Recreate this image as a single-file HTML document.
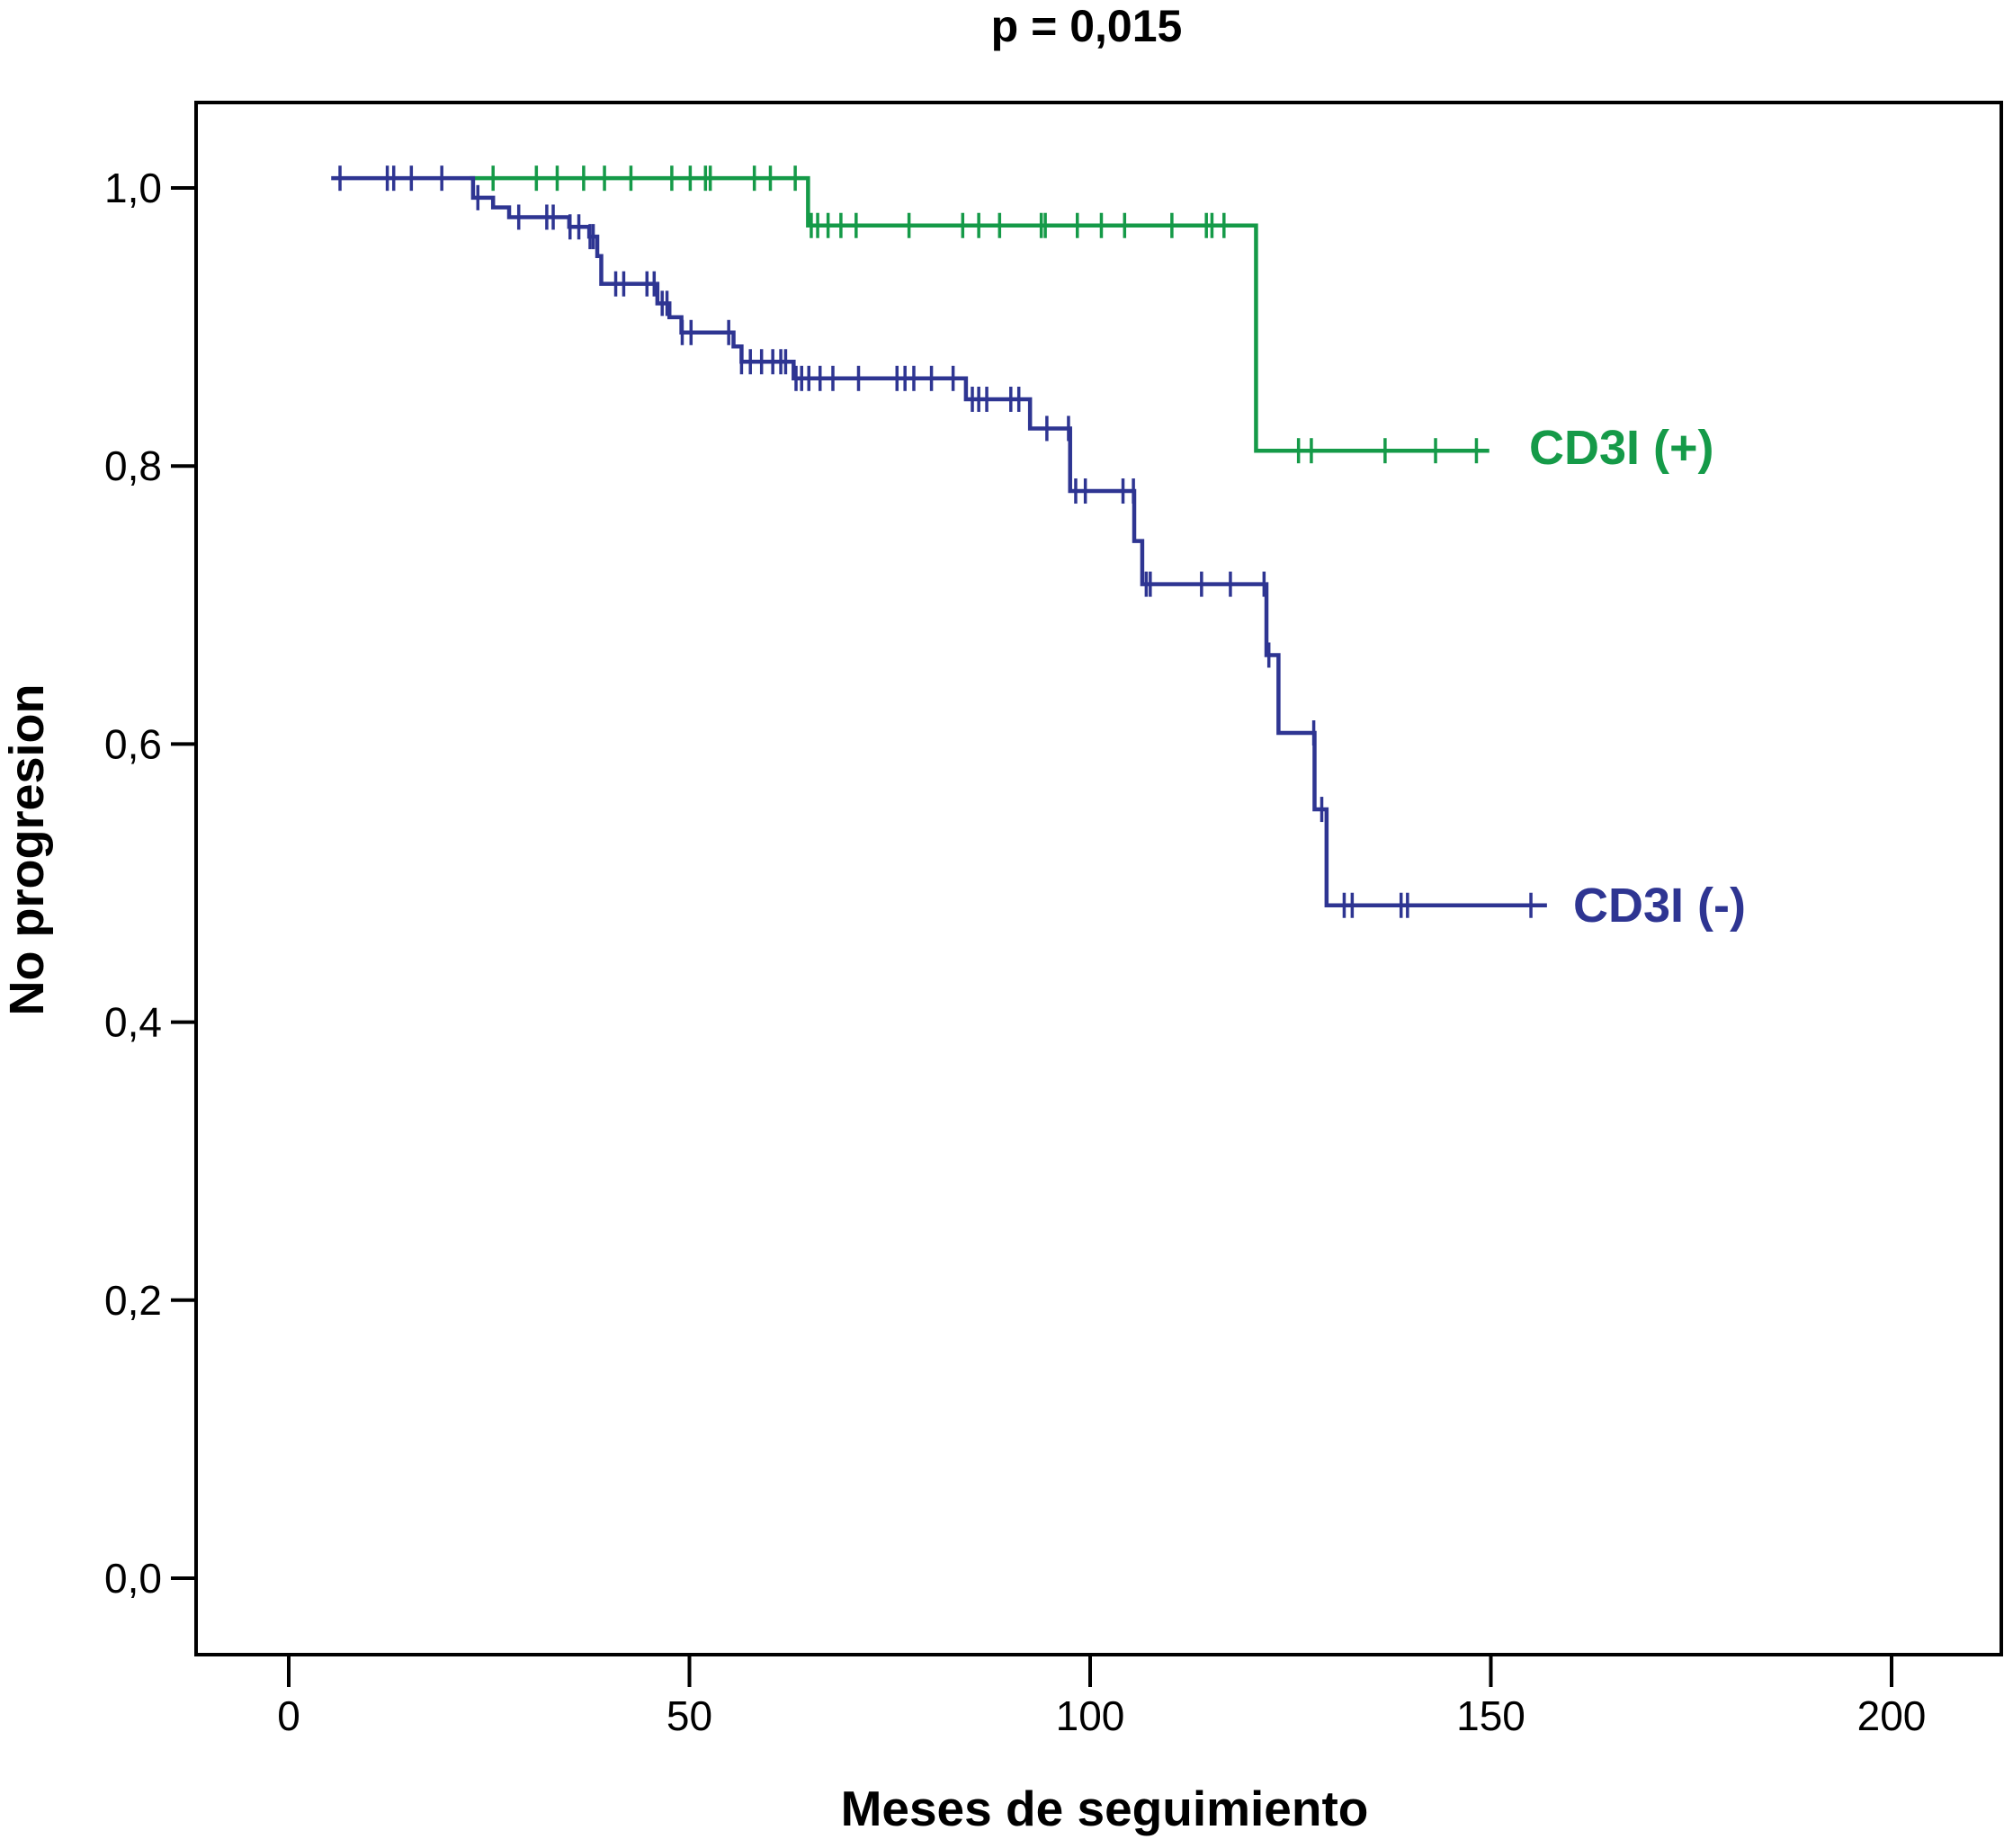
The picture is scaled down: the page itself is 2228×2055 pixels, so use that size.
<!DOCTYPE html>
<html><head><meta charset="utf-8"><style>
html,body{margin:0;padding:0;background:#fff;}
svg{display:block;font-family:"Liberation Sans",Arial,sans-serif;}
</style></head><body>
<svg id="chart" width="2228" height="2055" viewBox="0 0 2228 2055" xmlns="http://www.w3.org/2000/svg">
<rect x="0" y="0" width="2228" height="2055" fill="#fff"/>
<text x="1208" y="46" text-anchor="middle" font-size="50" font-weight="bold">p = 0,015</text>
<rect x="218" y="114" width="2007" height="1726" fill="none" stroke="#000" stroke-width="4"/>
<g id="yaxis"></g>
<g id="xaxis"></g>
<g id="series"></g>
<text transform="translate(48,945) rotate(-90)" text-anchor="middle" font-size="54" font-weight="bold">No progresion</text>
<text x="1228" y="2030" text-anchor="middle" font-size="55" font-weight="bold">Meses de seguimiento</text>
<text x="1700" y="516" font-size="54" font-weight="bold" fill="#159a48">CD3I (+)</text>
<text x="1749" y="1025" font-size="54" font-weight="bold" fill="#2e3592">CD3I (-)</text>
</svg>
<script>
const xTicks = [0, 50, 100, 150, 200];
const yTicks = [0, 0.2, 0.4, 0.6, 0.8, 1.0];
const yTickLabels = ["0,0", "0,2", "0,4", "0,6", "0,8", "1,0"];

const greenStart = 22.6;
const greenEnd = 149.8;
const greenStepTimes = [64.8, 120.7];
const greenStepValues = [1.007, 0.973, 0.811];
const greenCensor = [25.5,30.9,33.5,36.8,39.4,42.7,47.8,50.1,52.0,52.6,58.1,60.1,63.2,65.2,66.0,67.3,68.9,70.8,77.4,84.1,86.1,88.7,93.9,94.4,98.4,101.4,104.3,110.2,114.5,115.2,116.7,126.0,127.6,136.8,143.1,148.2];

const blueStart = 5.3;
const blueEnd = 157;
const blueStepTimes = [23,25.5,27.5,35,37.5,38.5,39,46,47.5,49,55.5,56.5,63,84.5,92.5,97.5,105.5,106.5,122,123.5,128,129.5];
const blueStepValues = [1.007,0.993,0.986,0.979,0.972,0.965,0.951,0.931,0.917,0.907,0.896,0.886,0.875,0.863,0.848,0.827,0.782,0.746,0.715,0.664,0.608,0.553,0.484];
const blueCensor = [6.4,12.3,13.1,15.3,19.1,23.6,28.7,32.2,33.0,35.1,36.2,37.6,38.0,40.8,41.8,44.7,45.6,46.6,47.2,49.1,50.2,54.9,56.5,57.6,59.0,60.4,61.4,62.0,63.3,64.0,64.9,66.3,67.9,71.1,75.9,76.9,78.0,80.2,82.9,85.3,86.1,87.1,90.1,91.1,94.6,97.3,98.2,99.4,104.1,105.4,107.0,107.5,113.9,117.5,121.7,122.3,127.9,128.9,131.7,132.7,138.8,139.6,155.0];

const NS = "http://www.w3.org/2000/svg";
function xs(v){ return 321 + v * (2103 - 321) / 200; }
function ys(v){ return 1755 - v * (1755 - 209); }
function mk(tag, attrs, parent){
  const e = document.createElementNS(NS, tag);
  for (const k in attrs) e.setAttribute(k, attrs[k]);
  parent.appendChild(e);
  return e;
}
const yg = document.getElementById('yaxis');
yTicks.forEach((t, i) => {
  const l = mk('line', {x1:190, x2:218, y1:ys(t), y2:ys(t), stroke:'#000', 'stroke-width':4}, yg);
  
  
  const tx = mk('text', {x:180, y:ys(t)+16, 'text-anchor':'end', 'font-size':46}, yg);
  tx.textContent = yTickLabels[i];
  
  
});
const xg = document.getElementById('xaxis');
xTicks.forEach(t => {
  const l = mk('line', {x1:xs(t), x2:xs(t), y1:1840, y2:1876, stroke:'#000', 'stroke-width':4}, xg);
  
  
  const tx = mk('text', {x:xs(t), y:1924, 'text-anchor':'middle', 'font-size':46}, xg);
  tx.textContent = String(t);
  
  
});
const sg = document.getElementById('series');
function valueAt(times, vals, t){
  let v = vals[0];
  for (let i = 0; i < times.length; i++) if (t >= times[i]) v = vals[i+1];
  return v;
}
function drawSeries(name, color, start, end, times, vals, censor){
  let d = 'M' + xs(start) + ',' + ys(vals[0]);
  times.forEach((t, i) => {
    d += ' H' + xs(t) + ' V' + ys(vals[i+1]);
  });
  d += ' H' + xs(end);
  const p = mk('path', {d:d, fill:'none', stroke:color, 'stroke-width':4.5}, sg);
  
  
  censor.forEach(c => {
    const y = ys(valueAt(times, vals, c));
    const l = mk('line', {x1:xs(c), x2:xs(c), y1:y-14, y2:y+14, stroke:color, 'stroke-width':3.5}, sg);
    
    
  });
}
drawSeries('cd3i-positive', '#159a48', greenStart, greenEnd, greenStepTimes, greenStepValues, greenCensor);
drawSeries('cd3i-negative', '#2e3592', blueStart, blueEnd, blueStepTimes, blueStepValues, blueCensor);
</script>
</body></html>
